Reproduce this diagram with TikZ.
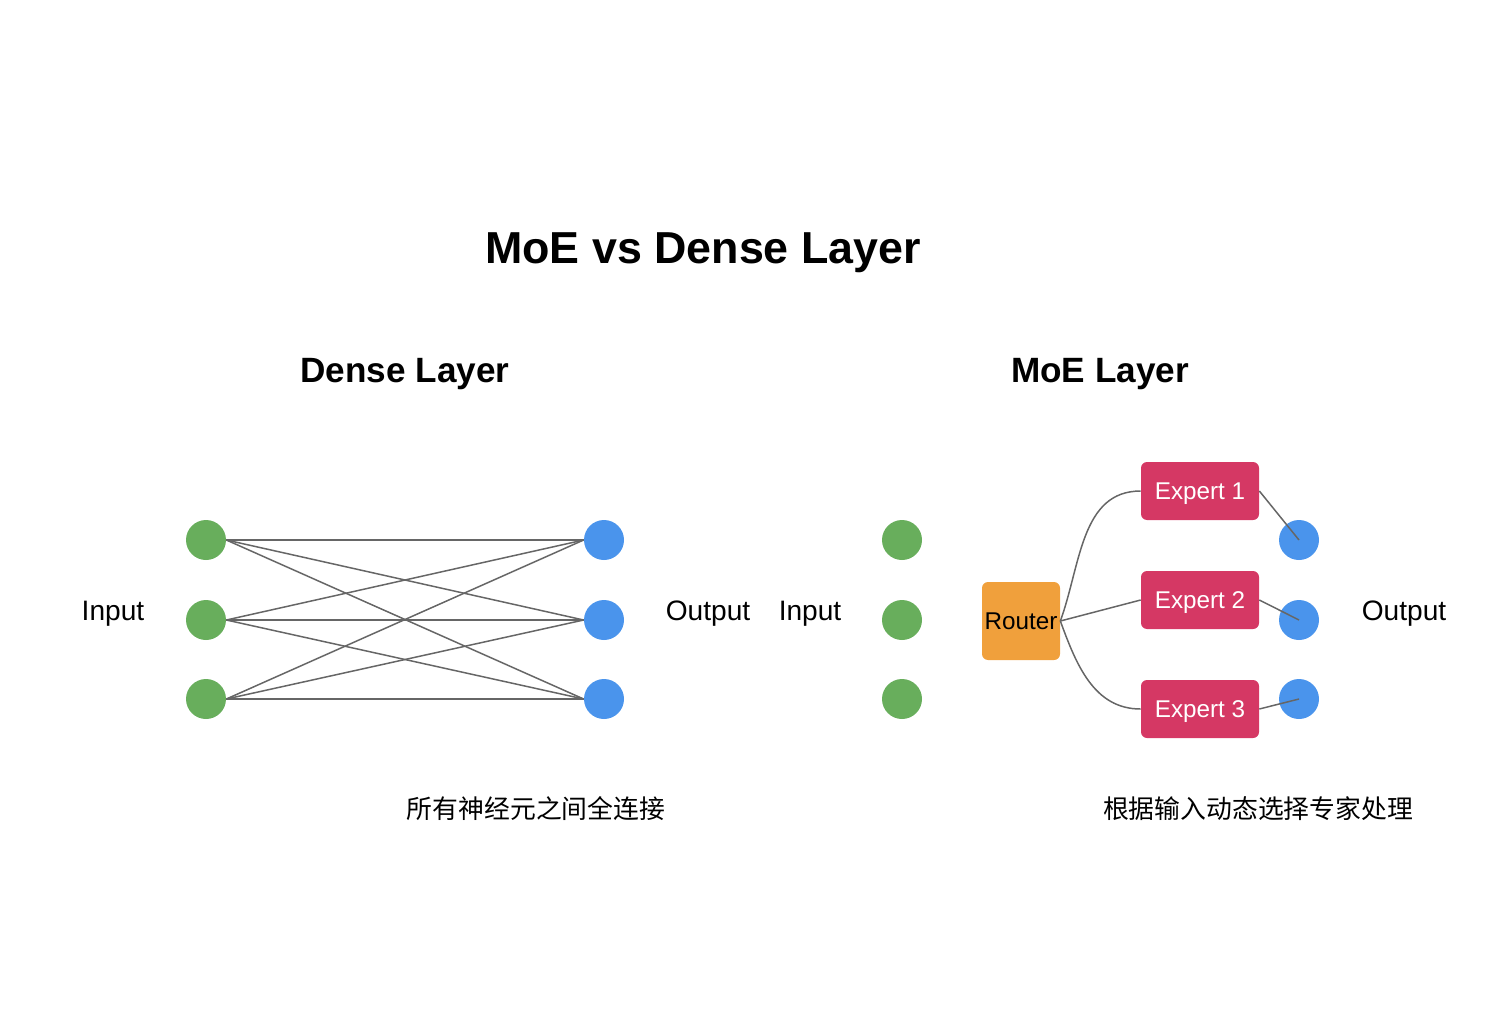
\documentclass[tikz,border=0pt]{standalone}
\usepackage{fontspec}
\setmainfont{Liberation Sans}
\newfontfamily\cjk{Noto Sans CJK SC}
\definecolor{ingreen}{RGB}{104,174,92}
\definecolor{outblue}{RGB}{74,148,236}
\definecolor{expertred}{RGB}{213,56,100}
\definecolor{routerorange}{RGB}{240,160,60}
\definecolor{linkgray}{RGB}{102,102,102}
\begin{document}
\begin{tikzpicture}[
  x=0.02cm,
  y=-0.02cm,
  every node/.style={font=\fontsize{16}{19}\selectfont},
  neuronin/.style={circle, fill=ingreen, minimum size=0.8cm, inner sep=0pt},
  neuronout/.style={circle, fill=outblue, minimum size=0.8cm, inner sep=0pt},
  expertbox/.style={rectangle, rounded corners=0.12cm, fill=expertred, text=white,
    minimum width=2.36cm, minimum height=1.16cm, inner sep=0pt, text depth=0pt,
    font=\fontsize{13.8}{16}\selectfont},
  link/.style={draw=linkgray, line width=0.85pt}
]
  \useasboundingbox (0,0) rectangle (1510,1008);

  % Titles.
  \node[anchor=base, font=\fontsize{25.5}{30}\selectfont\bfseries] (title) at (703,263) {MoE vs Dense Layer};
  \node[anchor=base, font=\fontsize{20}{24}\selectfont\bfseries] (densetitle) at (405,382) {Dense Layer};
  \node[anchor=base, font=\fontsize{20}{24}\selectfont\bfseries] (moetitle) at (1100,382) {MoE Layer};

  % Dense layer: neurons.
  \foreach \n/\ypos in {1/540,2/620,3/699} {
    \node[neuronin] (din\n) at (206,\ypos) {};
    \node[neuronout] (dout\n) at (604,\ypos) {};
  }
  \foreach \i in {1,2,3} {
    \foreach \j in {1,2,3} {
      \draw[link] (din\i.east) -- (dout\j.west);
    }
  }
  \node[anchor=base] (dinlabel) at (113,620) {Input};
  \node[anchor=base] (doutlabel) at (708,620) {Output};
  \node[font=\cjk\fontsize{14.7}{18}\selectfont] (densenote) at (536,809) {所有神经元之间全连接};

  % MoE layer: inputs, router and experts.
  \foreach \n/\ypos in {1/540,2/620,3/699} {
    \node[neuronin] (min\n) at (902,\ypos) {};
    \node[neuronout] (mout\n) at (1299,\ypos) {};
  }
  \node[anchor=base] (minlabel) at (810,620) {Input};
  \node[anchor=base] (moutlabel) at (1404,620) {Output};
  \node[rectangle, rounded corners=0.12cm, fill=routerorange, minimum size=1.56cm,
    inner sep=0pt, text depth=0pt, font=\fontsize{13.8}{16}\selectfont] (router) at (1021,621) {Router};
  \node[expertbox] (exp1) at (1200,491) {Expert 1};
  \node[expertbox] (exp2) at (1200,600) {Expert 2};
  \node[expertbox] (exp3) at (1200,709) {Expert 3};

  % Routing.
  \draw[link] (router.east) to[out=70, in=180] (exp1.west);
  \draw[link] (router.east) -- (exp2.west);
  \draw[link] (router.east) to[out=-70, in=180] (exp3.west);
  \foreach \n in {1,2,3} {
    \draw[link] (exp\n.east) -- (mout\n.center);
  }
  \node[font=\cjk\fontsize{14.7}{18}\selectfont] (moenote) at (1258,809) {根据输入动态选择专家处理};
\end{tikzpicture}
\end{document}
